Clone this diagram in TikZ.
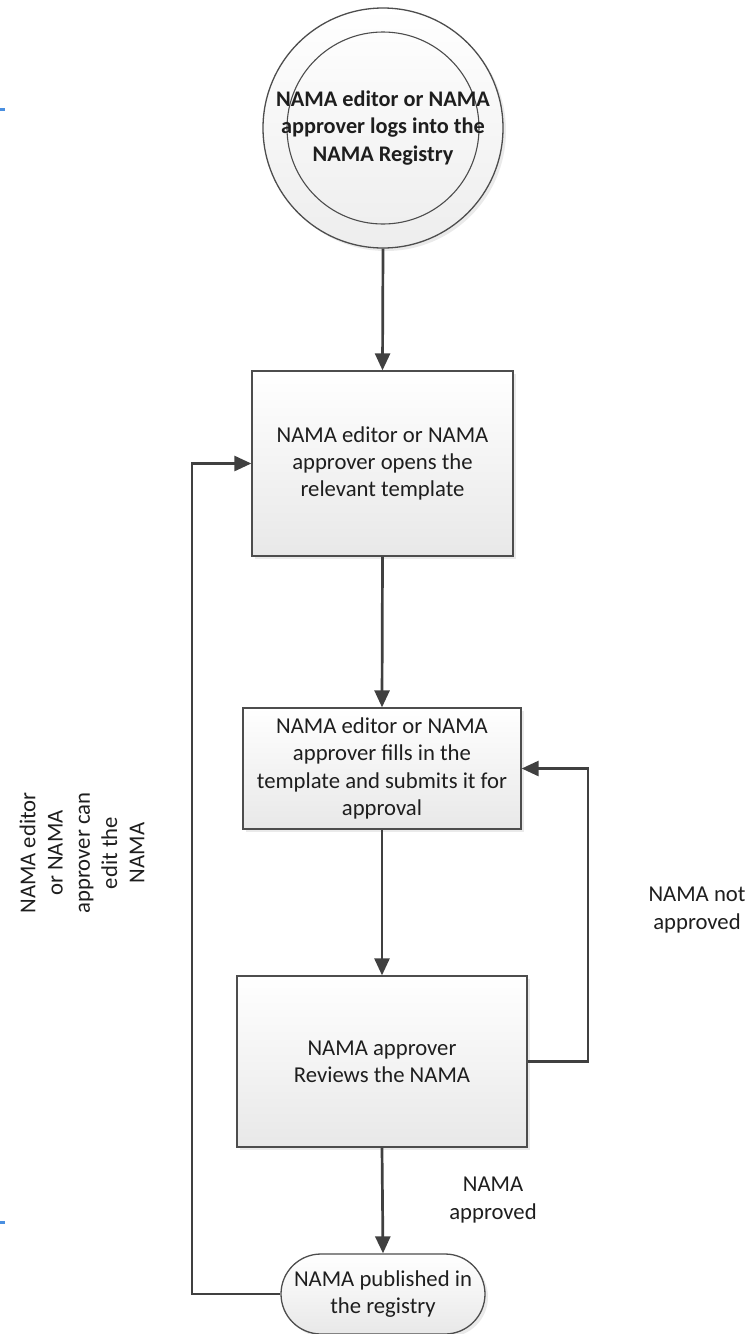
\documentclass[tikz,border=0pt]{standalone}
\usepackage{fontspec}
\setmainfont{Carlito}
\usetikzlibrary{arrows.meta,shadows}
\definecolor{ln}{HTML}{404040}
\definecolor{bd}{HTML}{4D4D4D}
\definecolor{tx}{HTML}{1E1E1E}
\definecolor{tick}{HTML}{4A8FE0}
\definecolor{shd}{HTML}{D6D6D6}
\begin{document}
\begin{tikzpicture}[x=1pt,y=-1pt,
  fnt/.style={font=\fontsize{22.7}{27.3}\selectfont, text=tx, align=center},
  shadowed/.style={drop shadow={shadow xshift=3pt, shadow yshift=-3pt, fill=shd}},
  shapefill/.style={draw=bd, line width=1.3pt, top color=white, bottom color=black!9, shadowed},
  boxn/.style={shapefill, rectangle, inner sep=0pt, fnt},
  conn/.style={draw=ln, line width=2.7pt, -{Triangle[length=17pt,width=15pt]}},
  lbl/.style={fnt}
]
\useasboundingbox (0,0) rectangle (747,1334);
% blue ticks at the left edge
\fill[tick] (0,108) rectangle (5,111);
\fill[tick] (0,1221) rectangle (5,1224);

% start (double circle)
\node[shapefill, circle, inner sep=0pt, minimum size=240pt, top color=white, bottom color=black!7] (start) at (383,128) {};
\node[circle, draw=bd, line width=1.1pt, inner sep=0pt, minimum size=192pt] (startin) at (383,128) {};
\node[fnt, font=\fontsize{22.3}{27.3}\selectfont\bfseries] (starttxt) at (383,128)
  {NAMA editor or NAMA\\approver logs into the\\NAMA Registry};

% process boxes
\node[boxn, minimum width=261pt, minimum height=185pt] (open) at (382.5,463.5)
  {NAMA editor or NAMA\\approver opens the\\relevant template};
\node[boxn, minimum width=278pt, minimum height=121pt] (fill) at (382,768.5)
  {NAMA editor or NAMA\\approver fills in the\\template and submits it for\\approval};
\node[boxn, minimum width=290pt, minimum height=171pt] (review) at (382,1061.5)
  {NAMA approver\\Reviews the NAMA};

% terminator
\node[shapefill, rectangle, rounded corners=40pt, inner sep=0pt, minimum width=204pt, minimum height=80pt, fnt] (pub) at (383,1294)
  {NAMA published in\\the registry};

% labels
\node[lbl] (notappr) at (697,910) {NAMA not\\approved};
\node[lbl] (appr) at (493,1200) {NAMA\\approved};
\node[lbl, rotate=90] (editlbl) at (82,853) {NAMA editor\\or NAMA\\approver can\\edit the\\NAMA};

% connector helper coordinates
\coordinate (rloop) at (588,0);
\coordinate (lloop) at (192,0);

% connectors
\draw[conn] (start.south) -- (open.north);
\draw[conn] (open.south) -- (fill.north);
\draw[conn] (fill.south) -- (review.north);
\draw[conn] (review.south) -- (pub.north);
\draw[conn] (review.east) -- (review.east -| rloop) -- (fill.east -| rloop) -- (fill.east);
\draw[conn] (pub.west) -- (pub.west -| lloop) -- (open.west -| lloop) -- (open.west);
\end{tikzpicture}
\end{document}
